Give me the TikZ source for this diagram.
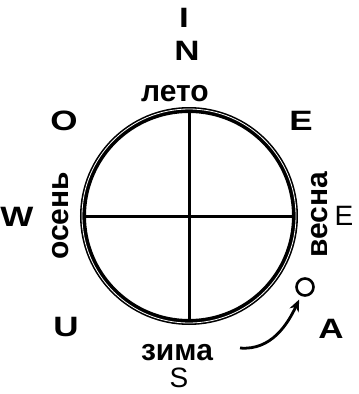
\documentclass[tikz,border=0pt]{standalone}
\usepackage{fontspec}
\setmainfont{Liberation Sans}
\usetikzlibrary{arrows.meta}
\begin{document}
\begin{tikzpicture}[x=1pt,y=-1pt,
  bl/.style={font=\fontsize{28}{32}\selectfont\bfseries, inner sep=0pt, xscale=1.25},
  rl/.style={font=\fontsize{28}{32}\selectfont, inner sep=0pt},
  sl/.style={font=\fontsize{30}{34}\selectfont\bfseries, inner sep=0pt},
  ring/.style={line width=6pt},
  axis/.style={line width=3pt}]
\useasboundingbox (0,0) rectangle (359,394);
\coordinate (c) at (189,216);
\draw[ring] (c) circle[radius=106];
\draw[white, line width=0.8pt] (c) circle[radius=107];
\coordinate (top) at (189,110);
\coordinate (bot) at (189,322);
\coordinate (lft) at (83,216);
\coordinate (rgt) at (295,216);
\draw[axis] (top) -- (bot);
\draw[axis] (lft) -- (rgt);
\node[bl] (I) at (184,18) {I};
\node[bl] (N) at (187,51) {N};
\node[sl] (leto) at (175,94) {лето};
\node[bl] (O) at (64,121) {O};
\node[bl] (E1) at (301,121) {E};
\node[bl] (W) at (17,217) {W};
\node[sl, rotate=90] (osen) at (61,216) {осень};
\node[sl, rotate=90] (vesna) at (320,215) {весна};
\node[rl] (E2) at (344,216) {E};
\node[bl] (U) at (66,327) {U};
\node[bl] (A) at (331,329) {A};
\node[sl] (zima) at (177,353) {зима};
\node[rl] (S) at (179,378) {S};
\node[draw, circle, line width=2.6pt, minimum size=17pt, inner sep=0pt] (sc) at (305,287) {};
\coordinate (as) at (240,348);
\draw[line width=2.8pt, -{Stealth[length=12pt,width=10pt]}, shorten >=4pt] (as) to[out=-5, in=-115] (sc);
\end{tikzpicture}
\end{document}
